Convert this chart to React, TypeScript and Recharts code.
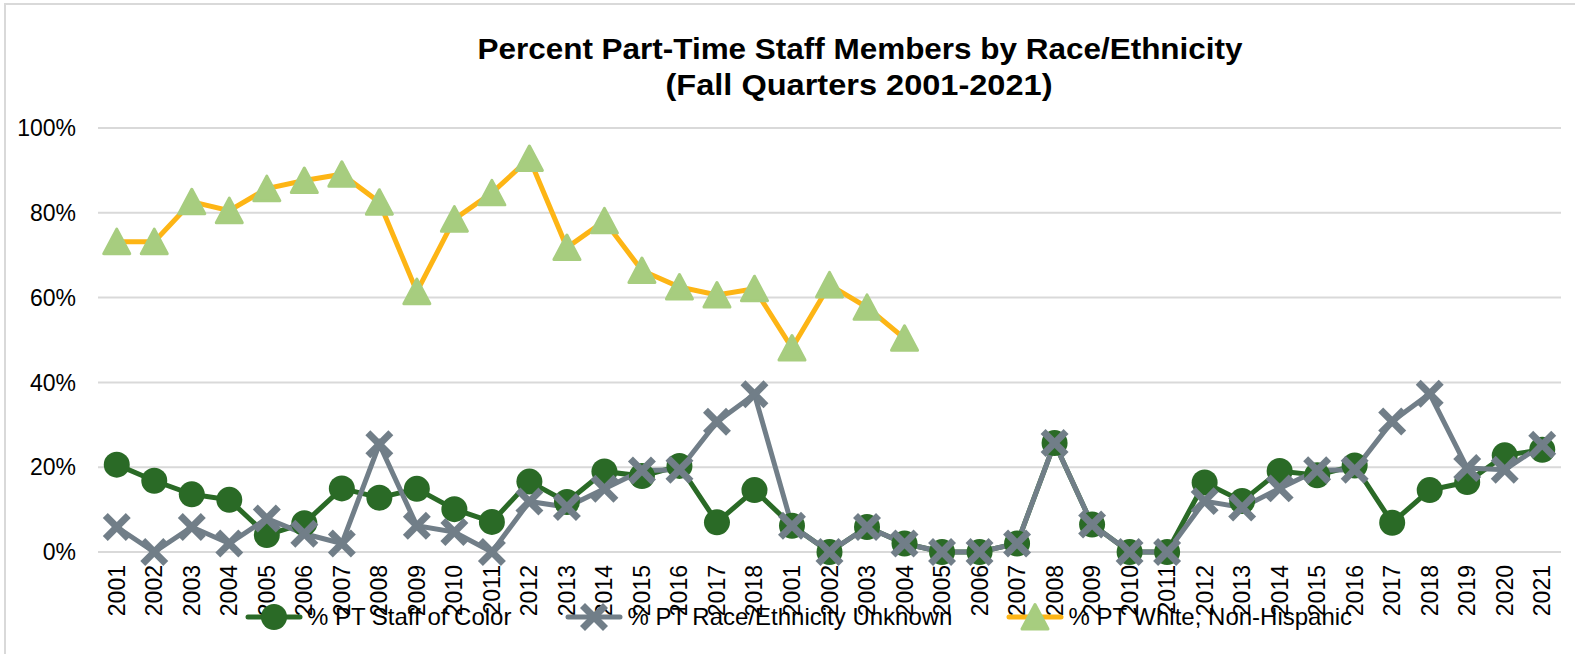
import React from 'react';
import { LineChart, Line, XAxis, YAxis, CartesianGrid, Legend } from 'recharts';

const categories = [
  '2001','2002','2003','2004','2005','2006','2007','2008','2009','2010','2011','2012','2013','2014','2015','2016','2017','2018',
  '2001','2002','2003','2004','2005','2006','2007','2008','2009','2010','2011','2012','2013','2014','2015','2016','2017','2018','2019','2020','2021',
];

const staffOfColor = [
  20.6, 16.8, 13.6, 12.3, 4.0, 6.8, 15.0, 12.8, 14.9, 10.1, 7.1, 16.6, 11.8, 19.0, 17.9, 20.3, 7.0, 14.6,
  6.2, 0, 5.9, 2.0, 0, 0, 2.0, 25.7, 6.5, 0, 0, 16.4, 12.0, 19.1, 18.1, 20.4, 6.9, 14.6, 16.5, 22.8, 24.1,
];

const raceUnknown = [
  5.9, 0, 5.9, 2.0, 7.9, 4.3, 2.0, 25.4, 6.2, 4.7, 0, 11.9, 10.6, 14.9, 19.2, 19.4, 30.7, 37.2,
  6.2, 0, 5.9, 2.0, 0, 0, 2.0, 25.7, 6.5, 0, 0, 12.0, 10.5, 15.0, 19.3, 19.4, 30.8, 37.3, 19.8, 19.4, 25.3,
];

const whiteNonHispanic: (number | null)[] = [
  73.2, 73.2, 82.6, 80.5, 85.7, 87.6, 89.1, 82.5, 61.4, 78.5, 84.7, 92.8, 71.8, 78.1, 66.4, 62.5, 60.6, 62.1,
  48.1, 63.0, 57.7, 50.4, null, null, null, null, null, null, null, null, null, null, null, null, null, null, null, null, null,
];

const yTicks = [0, 20, 40, 60, 80, 100];

const seriesNames = ['% PT Staff of Color', '% PT Race/Ethnicity Unknown', '% PT White, Non-Hispanic'];

const GREEN = '#2A6A26';
const GRAY = '#717E88';
const YELLOW = '#FDB515';
const TRI = '#A7CD7F';
const FONT = '"Liberation Sans", Arial, sans-serif';

const data = categories.map((c, i) => ({
  idx: i,
  label: c,
  color: staffOfColor[i],
  unknown: raceUnknown[i],
  white: whiteNonHispanic[i],
}));

const CircleMark = ({ cx, cy }: { cx: number; cy: number }) => (
  <circle cx={cx} cy={cy} r={13} fill={GREEN} />
);
const XMark = ({ cx, cy }: { cx: number; cy: number }) => (
  <g stroke={GRAY} strokeWidth={7}>
    <line x1={cx - 11.5} y1={cy - 11.5} x2={cx + 11.5} y2={cy + 11.5} />
    <line x1={cx - 11.5} y1={cy + 11.5} x2={cx + 11.5} y2={cy - 11.5} />
  </g>
);
const TriMark = ({ cx, cy }: { cx: number; cy: number }) => (
  <path
    d={`M${cx},${cy - 12.5} L${cx + 13},${cy + 12} L${cx - 13},${cy + 12} Z`}
    fill={TRI}
    stroke={TRI}
    strokeWidth={3}
    strokeLinejoin="round"
  />
);

const makeDot = (Comp: any) => (props: any) => {
  const { cx, cy, index, value } = props;
  if (cx == null || cy == null || value == null || (Array.isArray(value) && value[1] == null)) {
    return <g key={`d-${index}`} />;
  }
  return (
    <g key={`d-${index}`}>
      <Comp cx={cx} cy={cy} />
    </g>
  );
};

const XTick = (props: any) => {
  const { x, y, payload } = props;
  return (
    <text
      x={x}
      y={y}
      transform={`rotate(-90 ${x} ${y})`}
      textAnchor="end"
      dominantBaseline="central"
      fontSize={23}
      fontFamily={FONT}
      fill="#000"
    >
      {categories[payload.value]}
    </text>
  );
};

const legendIcons = [
  (
    <svg width={58} height={30} key="i0">
      <line x1={3} y1={15} x2={55} y2={15} stroke={GREEN} strokeWidth={5} strokeLinecap="round" />
      <CircleMark cx={29} cy={15} />
    </svg>
  ),
  (
    <svg width={58} height={30} key="i1">
      <line x1={3} y1={15} x2={55} y2={15} stroke={GRAY} strokeWidth={5} strokeLinecap="round" />
      <XMark cx={29} cy={15} />
    </svg>
  ),
  (
    <svg width={58} height={30} key="i2">
      <line x1={3} y1={15} x2={55} y2={15} stroke={YELLOW} strokeWidth={5} strokeLinecap="round" />
      <TriMark cx={29} cy={15} />
    </svg>
  ),
];

const renderLegend = () => (
  <div style={{ display: 'flex', justifyContent: 'center', gap: 54, paddingLeft: 22, fontFamily: FONT, fontSize: 24, color: '#000' }}>
    {seriesNames.map((n, i) => (
      <div key={n} style={{ display: 'flex', alignItems: 'center' }}>
        {legendIcons[i]}
        <span style={{ marginLeft: 4, lineHeight: '30px' }}>{n}</span>
      </div>
    ))}
  </div>
);

export default function App() {
  return (
    <div style={{ position: 'absolute', left: 0, top: 0, width: 1575, height: 654, overflow: 'hidden', background: '#fff' }}>
      <div style={{ position: 'absolute', left: 4, top: 3, width: 1600, height: 700, border: '2px solid #D9D9D9' }} />
      <div style={{ position: 'absolute', left: 0, top: 0 }}>
        <LineChart width={1575} height={654} data={data} margin={{ top: 128, right: 14, bottom: 72, left: 0 }}>
          <CartesianGrid vertical={false} stroke="#D9D9D9" strokeWidth={2} />
          <XAxis
            dataKey="idx"
            type="category"
            scale="band"
            height={30}
            interval={0}
            axisLine={false}
            tickLine={false}
            tickSize={0}
            tickMargin={13}
            tick={<XTick />}
          />
          <YAxis
            type="number"
            domain={[0, 100]}
            ticks={yTicks}
            width={98}
            axisLine={false}
            tickLine={false}
            tickSize={0}
            tickMargin={22}
            tickFormatter={(v: number) => `${v}%`}
            tick={{ fontSize: 23, fontFamily: FONT, fill: '#000' }}
          />
          <Legend
            layout="horizontal"
            verticalAlign="middle"
            align="center"
            content={renderLegend}
            wrapperStyle={{ top: 602, left: 0, width: 1575 }}
          />
          <Line
            dataKey="color"
            name={seriesNames[0]}
            stroke={GREEN}
            strokeWidth={5}
            dot={makeDot(CircleMark)}
            activeDot={false}
            isAnimationActive={false}
          />
          <Line
            dataKey="unknown"
            name={seriesNames[1]}
            stroke={GRAY}
            strokeWidth={5}
            dot={makeDot(XMark)}
            activeDot={false}
            isAnimationActive={false}
          />
          <Line
            dataKey="white"
            name={seriesNames[2]}
            stroke={YELLOW}
            strokeWidth={5}
            dot={makeDot(TriMark)}
            activeDot={false}
            isAnimationActive={false}
          />
        </LineChart>
      </div>
      <svg width={1575} height={110} style={{ position: 'absolute', left: 0, top: 0, pointerEvents: 'none' }}>
        <text x={860} y={59} textAnchor="middle" fontFamily={FONT} fontWeight="bold" fontSize={29} textLength={765} lengthAdjust="spacingAndGlyphs" fill="#000">
          Percent Part-Time Staff Members by Race/Ethnicity
        </text>
        <text x={859} y={95} textAnchor="middle" fontFamily={FONT} fontWeight="bold" fontSize={29} textLength={387} lengthAdjust="spacingAndGlyphs" fill="#000">
          (Fall Quarters 2001-2021)
        </text>
      </svg>
    </div>
  );
}
